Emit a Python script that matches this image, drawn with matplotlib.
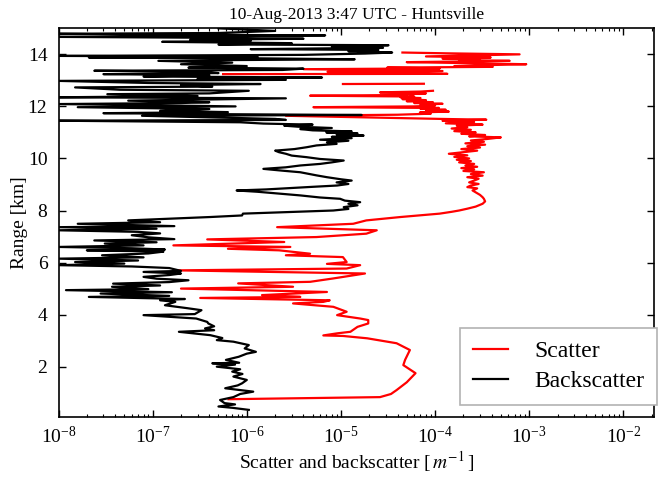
import numpy as np
import matplotlib
matplotlib.use("Agg")
import matplotlib.pyplot as plt

plt.rcParams["font.family"] = "serif"
plt.rcParams["font.serif"] = ["Liberation Serif", "DejaVu Serif"]
plt.rcParams["mathtext.fontset"] = "stix"
plt.rcParams["axes.unicode_minus"] = False
plt.rcParams["font.size"] = 14

nan = np.nan

# lidar profile, range in km
scatter_range = [
    0.75, 0.83, 0.95, 1.10, 1.40, 1.75, 2.06, 2.26, 2.64, 2.90,
    3.09, 3.18, 3.20, 3.28, 3.34, 3.53, 3.66, 3.79, 3.85, 3.98,
    4.11, 4.30, 4.43, 4.49, 4.55, 4.64, 4.68, 4.75, 4.87, 5.00,
    5.07, 5.20, 5.26, 5.39, 5.58, 5.70, 5.77, 5.90, 5.95, 6.02,
    6.21, 6.28, 6.34, 6.47, 6.53, 6.60, 6.66, 6.79, 6.89, 6.98,
    7.11, 7.24, 7.36, 7.49, 7.62, 7.75, 7.88, 7.95, 8.00, 8.07,
    8.15, 8.26, 8.35, 8.45, 8.51, 8.60, 8.70, 8.77, 8.85, 8.90,
    8.96, 9.02, 9.08, 9.15, 9.22, 9.28, 9.34, 9.40, 9.47, 9.52,
    9.58, 9.63, 9.68, 9.73, 9.79, 9.85, 9.90, 9.95, 10.00, 10.06,
    10.12, 10.18, 10.24, 10.30, 10.36, 10.42, 10.47, 10.53, 10.58, 10.64,
    10.69, 10.75, 10.81, 10.85, 10.90, 10.95, 11.00, 11.05, 11.10, 11.15,
    11.20, 11.26, 11.30, 11.35, 11.40, 11.45, 11.49, 11.52, 11.64, 11.68,
    11.72, 11.77, 11.80, 11.83, 11.87, 11.91, 11.94, 11.97, 12.00, 12.03,
    12.07, 12.10, 12.13, 12.16, 12.20, 12.24, 12.28, 12.32, 12.35, 12.38,
    12.41, 12.44, 12.47, 12.50, 12.54, 12.57, 12.60, 12.70, 12.86, 12.87,
    12.95, 13.24, 13.25, 13.33, 13.36, 13.43, 13.46, 13.49, 13.52, 13.55,
    13.58, 13.62, 13.66, 13.70, 13.75, 13.78, 13.80, 13.84, 13.88, 13.92,
    13.96, 14.00, 14.04, 14.07, 14.15,
]
scatter = [
    6.4e-7, 2.6e-5, 3.4e-5, 3.9e-5, 5.0e-5, 6.2e-5, 4.6e-5, 4.8e-5, 5.4e-5, 3.9e-5,
    1.9e-5, 1.05e-5, 6.5e-6, 9.1e-6, 1.26e-5, 1.5e-5, 1.95e-5, 1.95e-5, 1.6e-5, 9.1e-6,
    1.15e-5, 8.3e-6, 3.1e-6, 6.5e-6, 7.6e-6, 3.2e-7, 3.7e-6, 1.45e-6, 7.1e-6, 2.0e-7,
    3.1e-6, 8.1e-7, 4.7e-6, 8.3e-6, 1.8e-5, 1.86e-7, 1.15e-5, 1.6e-5, 7.1e-6, 1.15e-5,
    1.05e-5, 2.6e-6, 4.7e-6, 2.2e-6, 6.3e-7, 2.9e-6, 1.66e-7, 2.5e-6, 3.8e-7, 5.5e-6,
    1.86e-5, 2.4e-5, 2.1e-6, 1.35e-5, 1.86e-5, 4.3e-5, 1.12e-4, 1.5e-4, 1.8e-4, 2.2e-4,
    2.7e-4, 3.2e-4, 3.4e-4, 3.3e-4, 3.2e-4, 3.0e-4, 2.7e-4, 2.5e-4, 2.8e-4, 2.2e-4,
    2.4e-4, 2.9e-4, 2.3e-4, 2.6e-4, 2.9e-4, 2.2e-4, 3.2e-4, 2.4e-4, 3.3e-4, 2.0e-4,
    2.6e-4, 1.9e-4, 2.8e-4, 2.1e-4, 2.6e-4, 1.8e-4, 2.4e-4, 1.7e-4, 2.3e-4, 1.6e-4,
    2.2e-4, 1.4e-4, 2.0e-4, 2.8e-4, 1.9e-4, 3.0e-4, 2.2e-4, 3.4e-4, 2.1e-4, 3.3e-4,
    2.4e-4, 3.6e-4, 5.0e-4, 2.3e-4, 3.4e-4, 1.9e-4, 2.7e-4, 1.6e-4, 2.4e-4, 1.5e-4,
    2.2e-4, 1.7e-4, 3.2e-4, 1.3e-4, 2.6e-4, 1.2e-4, 3.5e-4, 1.12e-4, 2.6e-6, 4.0e-5,
    9.0e-5, 6.9e-5, 1.4e-4, 8.0e-5, 1.3e-4, 7.0e-5, 1.1e-4, 5.1e-6, 6.0e-5, 1.0e-4,
    7.0e-5, 1.2e-4, 6.0e-5, 9.5e-5, 5.0e-5, 8.0e-5, 4.5e-5, 7.0e-5, 4.3e-5, 6.0e-5,
    4.7e-6, 5.0e-5, 3.5e-5, 8.0e-5, 2.6e-5, 7.0e-5, 9.5e-5, nan, 1.05e-5, 7.6e-5,
    nan, 5.6e-7, 1.35e-4, 7.2e-6, 1.2e-4, 4.0e-6, 1.12e-4, 3.1e-5, 4.1e-4, 1.6e-4,
    3.0e-4, 9.3e-4, 2.5e-4, 5.0e-5, 6.2e-4, 1.8e-4, 3.0e-4, 1.2e-4, 3.9e-4, 8.0e-5,
    2.5e-4, 7.9e-4, 1.3e-4, 4.5e-5, nan,
]

backscatter_range = [
    0.34, 0.42, 0.47, 0.55, 0.60, 0.72, 0.83, 0.95, 1.04, 1.17,
    1.28, 1.36, 1.49, 1.62, 1.72, 1.81, 1.90, 2.00, 2.08, 2.13,
    2.15, 2.26, 2.38, 2.50, 2.57, 2.70, 2.83, 2.96, 3.02, 3.10,
    3.21, 3.34, 3.40, 3.47, 3.55, 3.66, 3.72, 3.85, 3.98, 4.02,
    4.17, 4.25, 4.36, 4.49, 4.55, 4.60, 4.68, 4.72, 4.81, 4.86,
    4.94, 4.98, 5.07, 5.12, 5.19, 5.25, 5.32, 5.38, 5.45, 5.52,
    5.58, 5.64, 5.68, 5.79, 5.85, 5.90, 5.96, 6.02, 6.08, 6.15,
    6.20, 6.28, 6.35, 6.42, 6.47, 6.50, 6.55, 6.60, 6.66, 6.73,
    6.78, 6.85, 6.90, 6.97, 7.05, 7.12, 7.18, 7.24, 7.30, 7.36,
    7.40, 7.49, 7.55, 7.62, 7.69, 7.75, 7.81, 7.88, 8.00, 8.06,
    8.13, 8.20, 8.26, 8.32, 8.38, 8.45, 8.50, 8.58, 8.65, 8.72,
    8.77, 8.81, 8.86, 8.91, 8.96, 9.02, 9.08, 9.15, 9.20, 9.28,
    9.35, 9.41, 9.47, 9.53, 9.60, 9.66, 9.73, 9.79, 9.85, 9.92,
    9.98, 10.05, 10.11, 10.18, 10.24, 10.30, 10.36, 10.43, 10.50, 10.56,
    10.62, 10.68, 10.72, 10.78, 10.83, 10.88, 10.92, 10.96, 11.00, 11.04,
    11.08, 11.13, 11.17, 11.22, 11.26, 11.30, 11.34, 11.39, 11.45, 11.48,
    11.52, 11.58, 11.64, 11.67, 11.70, 11.74, 11.78, 11.83, 11.90, 11.97,
    12.00, 12.09, 12.13, 12.16, 12.22, 12.26, 12.31, 12.35, 12.40, 12.47,
    12.50, 12.60, 12.64, 12.73, 12.76, 12.82, 12.86, 12.90, 12.98, 13.02,
    13.06, 13.11, 13.15, 13.20, 13.24, 13.28, 13.33, 13.37, 13.40, 13.45,
    13.49, 13.55, 13.62, 13.68, 13.75, 13.78, 13.81, 13.85, 13.88, 13.91,
    13.94, 13.98, 14.03, 14.07, 14.12, 14.17, 14.20, 14.25, 14.30, 14.35,
    14.38, 14.43, 14.48, 14.52, 14.56, 14.60, 14.64, 14.67, 14.70, 14.73,
    14.76, 14.79, 14.82, 14.90, 15.00,
]
backscatter = [
    1.05e-6, 7.0e-7, 5.0e-7, 7.5e-7, 5.8e-7, 5.2e-7, 7.2e-7, 8.5e-7, 1.17e-6, 5.9e-7,
    8.0e-7, 8.9e-7, 1.0e-6, 7.2e-7, 9.0e-7, 7.0e-7, 8.5e-7, 4.8e-7, 7.5e-7, 4.3e-7,
    8.3e-7, 6.0e-7, 8.2e-7, 1.0e-6, 1.25e-6, 9.5e-7, 1.05e-6, 7.2e-7, 4.8e-7, 5.5e-7,
    4.1e-7, 1.9e-7, 4.5e-7, 3.6e-7, 4.5e-7, 3.9e-7, 3.8e-7, 2.9e-7, 8.0e-8, 2.8e-7,
    3.3e-7, 2.3e-7, 1.35e-7, 1.74e-7, 1.2e-7, 2.2e-7, 2.1e-8, 1.5e-7, 2.8e-8, 1.6e-7,
    1.2e-8, 9.0e-8, 3.7e-8, 1.2e-7, 3.8e-8, 1.5e-7, 2.4e-7, 1.1e-7, 8.0e-8, 1.5e-7,
    2.0e-7, 8.0e-8, 2.0e-7, 1.5e-7, 6.0e-8, 1.0e-8, 5.0e-8, 1.5e-8, 7.0e-8, 1.0e-8,
    8.0e-8, 2.9e-8, 9.0e-8, 1.3e-7, 2.0e-8, 1.35e-7, 6.0e-8, 1.0e-8, 8.0e-8, 3.1e-8,
    1.1e-7, 2.4e-8, 1.7e-7, 9.0e-8, 6.0e-8, 1.2e-7, 7.0e-8, 1.0e-8, 1.1e-7, 1.0e-8,
    1.7e-7, 1.6e-8, 1.2e-7, 5.5e-8, 1.6e-7, 4.1e-7, 8.9e-7, 9.1e-7, 8.3e-6, 1.2e-5,
    1.07e-5, 1.5e-5, 1.2e-5, 1.6e-5, 1.1e-5, 9.8e-6, 6.0e-6, 3.7e-6, 2.2e-6, 1.3e-6,
    7.8e-7, 1.6e-6, 2.8e-6, 5.0e-6, 9.1e-6, 1.2e-5, 9.0e-6, 1.3e-5, 1.0e-5, 7.1e-6,
    5.5e-6, 4.5e-6, 3.7e-6, 2.4e-6, 1.5e-6, 2.6e-6, 3.7e-6, 6.0e-6, 8.0e-6, 1.07e-5,
    6.0e-6, 4.3e-6, 3.0e-6, 2.6e-6, 2.2e-6, 2.0e-6, 3.2e-6, 4.3e-6, 5.5e-6, 9.0e-6,
    7.1e-6, 1.2e-5, 6.0e-6, 1.3e-5, 8.0e-6, 1.74e-5, 9.0e-6, 1.5e-5, 7.0e-6, 1.3e-5,
    5.0e-6, 3.7e-6, 8.0e-6, 3.5e-6, 2.5e-6, 5.0e-6, 1.5e-6, 8.5e-7, 1.0e-8, 2.6e-6,
    2.0e-6, 4.0e-7, 7.7e-8, 1.66e-5, 6.0e-7, 3.0e-8, 6.3e-7, 1.2e-7, 4.0e-7, 1.6e-8,
    7.6e-7, 1.0e-8, 2.0e-7, 4.0e-7, 5.5e-8, 3.0e-7, 2.6e-6, 1.0e-8, 3.0e-7, 3.3e-8,
    4.0e-7, 1.05e-6, 4.5e-8, 1.5e-8, 4.3e-7, 2.0e-7, 1.4e-6, 9.0e-8, 1.0e-8, 2.6e-6,
    3.0e-7, 6.3e-6, 8.0e-8, 4.0e-7, 3.0e-8, 5.0e-7, 3.5e-7, 2.4e-8, 2.4e-6, 4.0e-6,
    2.4e-7, 1.0e-6, 2.0e-7, 7.0e-7, 1.15e-7, 6.6e-7, 1.4e-5, 1.0e-6, 2.1e-8, 1.3e-6,
    1.0e-8, 4.0e-6, 1.8e-5, 3.5e-5, 1.2e-5, 2.5e-5, 1.1e-6, 2.8e-5, 8.0e-6, 3.2e-5,
    5.0e-7, 3.0e-6, 1.26e-7, 1.1e-6, 2.5e-7, 4.0e-6, 3.0e-7, 1.0e-8, 6.0e-7, 6.8e-6,
    7.0e-8, 1.0e-8, 5.0e-7, 2.0e-6, 5.0e-7,
]

fig = plt.figure(figsize=(6.65, 4.8), dpi=100)
ax = fig.add_axes([0.088, 0.132, 0.895, 0.809])

ax.plot(scatter, scatter_range, color="r", lw=1.6, label="Scatter")
ax.plot(backscatter, backscatter_range, color="k", lw=1.6, label="Backscatter")

ax.set_xscale("log")
ax.set_xlim(1e-8, 2.1e-2)
ax.set_ylim(0.08, 15)
ax.set_yticks([2, 4, 6, 8, 10, 12, 14])

ax.tick_params(which="both", direction="in", top=True, right=True, labelsize=14)
ax.tick_params(which="major", length=5, width=1)
ax.tick_params(which="minor", length=2.5, width=0.8)
ax.tick_params(axis="x", which="major", pad=7)
ax.tick_params(axis="y", which="major", pad=8)
for s in ax.spines.values():
    s.set_linewidth(1.2)

ax.set_title("10-Aug-2013 3:47 UTC - Huntsville", fontsize=12.5, pad=7)
ax.set_xlabel(r"Scatter and backscatter [$\,m^{-1}\,$]", fontsize=14, labelpad=1)
ax.set_ylabel("Range [km]", fontsize=14, labelpad=0)

leg = ax.legend(loc="lower right", bbox_to_anchor=(0.988, 0.156),
                bbox_transform=fig.transFigure, borderaxespad=0,
                fontsize=17, fancybox=False, framealpha=1, edgecolor="0.7",
                handlelength=1.5, handletextpad=1.1, borderpad=0.55,
                labelspacing=0.35)
leg.get_frame().set_linewidth(1.2)

fig.savefig("out.png", dpi=100)
